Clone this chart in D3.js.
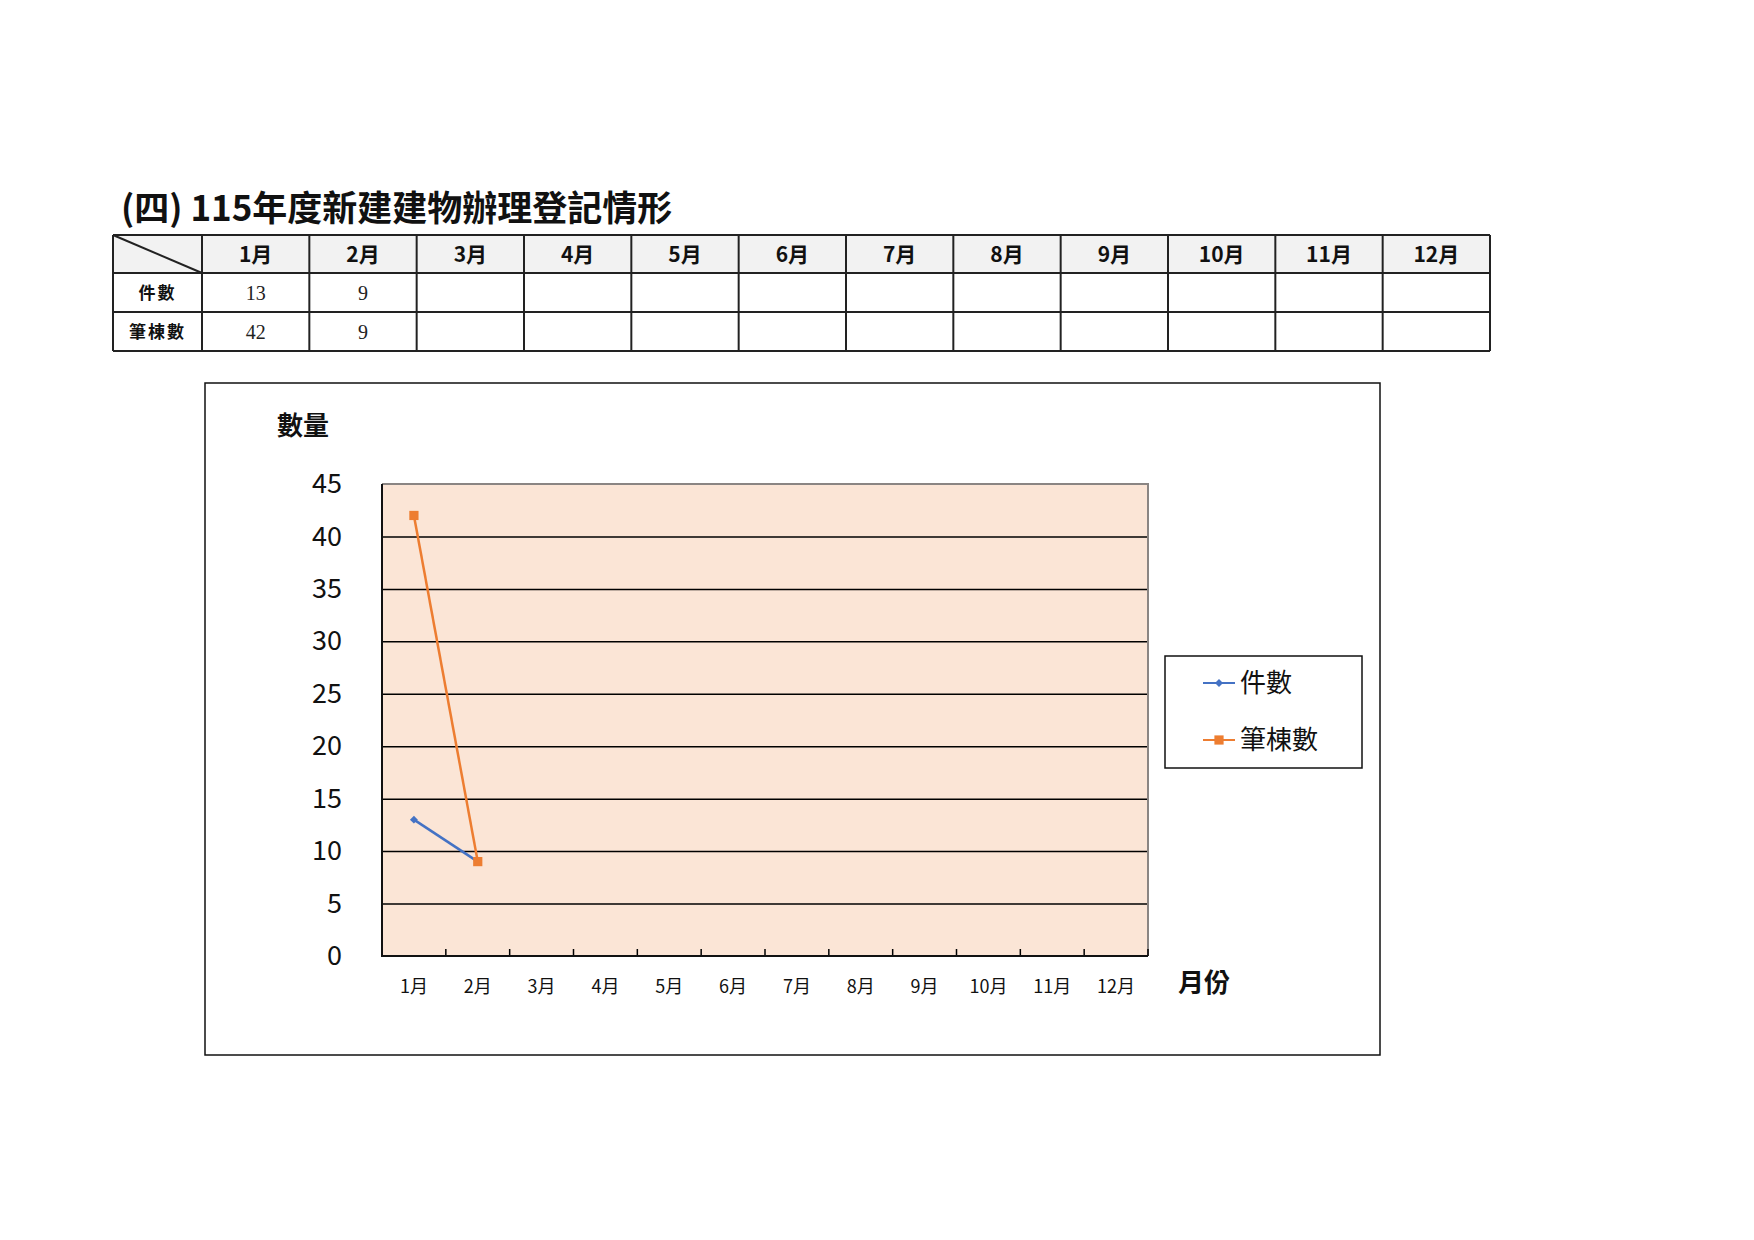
<!DOCTYPE html>
<html>
<head>
<meta charset="utf-8">
<script src="https://cdn.jsdelivr.net/npm/d3@7"></script>
<style>
  html, body { margin: 0; padding: 0; background: #fff; }
  svg { display: block; }
  text { font-family: "Noto Sans CJK TC", "Noto Sans", sans-serif; }
</style>
</head>
<body>
<svg id="chart" width="1754" height="1240"></svg>
<script>
// data
const title = '(四) 115年度新建建物辦理登記情形';
const months = ['1月', '2月', '3月', '4月', '5月', '6月', '7月', '8月', '9月', '10月', '11月', '12月'];
const seriesNames = ['件數', '筆棟數'];
const caseCounts = [13, 9];      // 件數
const buildingCounts = [42, 9];  // 筆棟數
const yTickValues = [0, 5, 10, 15, 20, 25, 30, 35, 40, 45];
const yTitle = '數量';
const xTitle = '月份';

const series = [
  { name: seriesNames[0], values: caseCounts, color: '#4472C4', symbol: d3.symbolDiamond2, size: 40 },
  { name: seriesNames[1], values: buildingCounts, color: '#ED7D31', symbol: d3.symbolSquare, size: 85 }
];

const svg = d3.select('#chart');
svg.append('rect').attr('width', 1754).attr('height', 1240).attr('fill', '#fff');

// ---- title ----
svg.append('text')
  .attr('x', 121).attr('y', 221)
  .attr('font-size', 35).attr('font-weight', 'bold').attr('fill', '#111')
  .text(title);

// ---- table ----
const tbl = { left: 113, firstCol: 202, right: 1490, rows: [235, 273, 312, 351] };
const colScale = d3.scaleBand().domain(months).range([tbl.firstCol, tbl.right]);
const tableG = svg.append('g');

tableG.append('rect')
  .attr('x', tbl.left).attr('y', tbl.rows[0])
  .attr('width', tbl.right - tbl.left).attr('height', tbl.rows[1] - tbl.rows[0])
  .attr('fill', '#f2f2f2');

// header
tableG.selectAll('text.head').data(months).join('text')
  .attr('class', 'head')
  .attr('x', d => colScale(d) + colScale.bandwidth() / 2)
  .attr('y', (tbl.rows[0] + tbl.rows[1]) / 2)
  .attr('dy', '0.36em')
  .attr('text-anchor', 'middle')
  .attr('font-size', 21).attr('font-weight', 'bold').attr('fill', '#111')
  .text(d => d);

// rows
series.forEach((s, i) => {
  const yMid = (tbl.rows[i + 1] + tbl.rows[i + 2]) / 2;
  tableG.append('text')
    .attr('x', (tbl.left + tbl.firstCol) / 2).attr('y', yMid).attr('dy', '0.36em')
    .attr('text-anchor', 'middle')
    .attr('font-size', 17).attr('font-weight', 'bold').attr('letter-spacing', 2).attr('fill', '#111')
    .text(s.name);
  tableG.selectAll('text.v' + i).data(s.values).join('text')
    .attr('class', 'v' + i)
    .attr('x', (d, j) => colScale(months[j]) + colScale.bandwidth() / 2)
    .attr('y', yMid).attr('dy', '0.35em')
    .attr('text-anchor', 'middle')
    .style('font-family', '"Liberation Serif", serif')
    .attr('font-size', 20).attr('fill', '#222')
    .text(d => d);
});

// grid lines of table
const lineColor = '#222';
tbl.rows.forEach(y => {
  tableG.append('line').attr('x1', tbl.left).attr('x2', tbl.right).attr('y1', y).attr('y2', y)
    .attr('stroke', lineColor).attr('stroke-width', 2);
});
[tbl.left, ...months.map(m => colScale(m)), tbl.right].forEach(x => {
  tableG.append('line').attr('x1', x).attr('x2', x).attr('y1', tbl.rows[0]).attr('y2', tbl.rows[3])
    .attr('stroke', lineColor).attr('stroke-width', 2);
});
tableG.append('line')
  .attr('x1', tbl.left).attr('y1', tbl.rows[0]).attr('x2', tbl.firstCol).attr('y2', tbl.rows[1])
  .attr('stroke', lineColor).attr('stroke-width', 2);

// ---- chart ----
svg.append('rect')
  .attr('x', 205).attr('y', 383).attr('width', 1175).attr('height', 672)
  .attr('fill', 'none').attr('stroke', '#111').attr('stroke-width', 1.5);

const plot = { left: 382, right: 1148, top: 484, bottom: 956 };
const x = d3.scaleBand().domain(months).range([plot.left, plot.right]);
const y = d3.scaleLinear().domain([0, 45]).range([plot.bottom, plot.top]);

svg.append('rect')
  .attr('x', plot.left).attr('y', plot.top)
  .attr('width', plot.right - plot.left).attr('height', plot.bottom - plot.top)
  .attr('fill', '#FBE5D6');

// horizontal grid
const grid = svg.append('g')
  .attr('transform', `translate(${plot.left},0)`)
  .call(d3.axisLeft(y).tickValues(yTickValues.slice(1, -1)).tickSize(-(plot.right - plot.left)).tickFormat(''));
grid.select('.domain').remove();
grid.selectAll('line').attr('stroke', '#000').attr('stroke-width', 1.5);

// top + right borders of plot area
svg.append('path')
  .attr('d', `M${plot.left},${plot.top}H${plot.right}V${plot.bottom}`)
  .attr('fill', 'none').attr('stroke', '#8a8583').attr('stroke-width', 2);

// y axis labels
const yAxis = svg.append('g')
  .attr('transform', `translate(${plot.left},0)`)
  .call(d3.axisLeft(y).tickValues(yTickValues).tickSize(0).tickPadding(40));
yAxis.select('.domain').remove();
yAxis.selectAll('text')
  .style('font-family', '"Noto Sans CJK TC", sans-serif')
  .attr('font-size', 27).attr('fill', '#111');

// x axis labels
const xAxis = svg.append('g')
  .attr('transform', `translate(0,${plot.bottom})`)
  .call(d3.axisBottom(x).tickSize(0));
xAxis.select('.domain').remove();
xAxis.selectAll('text')
  .attr('y', 31).attr('dy', '0.35em')
  .style('font-family', '"Noto Sans CJK TC", sans-serif')
  .attr('font-size', 18).attr('fill', '#111');

// x tick marks at the category boundaries (pointing inward)
svg.append('g').selectAll('line').data(months.slice(1).concat(['end'])).join('line')
  .attr('x1', d => d === 'end' ? plot.right : x(d))
  .attr('x2', d => d === 'end' ? plot.right : x(d))
  .attr('y1', plot.bottom).attr('y2', plot.bottom - 7)
  .attr('stroke', '#000').attr('stroke-width', 1.5);

// axis lines
svg.append('path')
  .attr('d', `M${plot.left},${plot.top}V${plot.bottom}H${plot.right}`)
  .attr('fill', 'none').attr('stroke', '#111').attr('stroke-width', 2);

// series
const line = d3.line()
  .x((d, i) => x(months[i]) + x.bandwidth() / 2)
  .y(d => y(d));

series.forEach(s => {
  svg.append('path')
    .datum(s.values)
    .attr('d', line)
    .attr('fill', 'none').attr('stroke', s.color).attr('stroke-width', 2.5);
  svg.append('g').selectAll('path').data(s.values).join('path')
    .attr('transform', (d, i) => `translate(${x(months[i]) + x.bandwidth() / 2},${y(d)})`)
    .attr('d', d3.symbol(s.symbol, s.size))
    .attr('fill', s.color);
});

// axis titles
svg.append('text')
  .attr('x', 277).attr('y', 426).attr('dy', '0.36em')
  .attr('font-size', 26).attr('font-weight', 'bold').attr('fill', '#111')
  .text(yTitle);
svg.append('text')
  .attr('x', 1178).attr('y', 983).attr('dy', '0.36em')
  .attr('font-size', 26).attr('font-weight', 'bold').attr('fill', '#111')
  .text(xTitle);

// legend
const legend = svg.append('g');
legend.append('rect')
  .attr('x', 1165).attr('y', 656).attr('width', 197).attr('height', 112)
  .attr('fill', '#fff').attr('stroke', '#111').attr('stroke-width', 1.5);
const legendY = d3.scalePoint().domain(seriesNames).range([683, 740]);
series.forEach(s => {
  const ly = legendY(s.name);
  legend.append('line')
    .attr('x1', 1203).attr('x2', 1235).attr('y1', ly).attr('y2', ly)
    .attr('stroke', s.color).attr('stroke-width', 2);
  legend.append('path')
    .attr('transform', `translate(1219,${ly})`)
    .attr('d', d3.symbol(s.symbol, s.size))
    .attr('fill', s.color);
  legend.append('text')
    .attr('x', 1240).attr('y', ly).attr('dy', '0.36em')
    .attr('font-size', 26).attr('fill', '#111')
    .text(s.name);
});
</script>
</body>
</html>
